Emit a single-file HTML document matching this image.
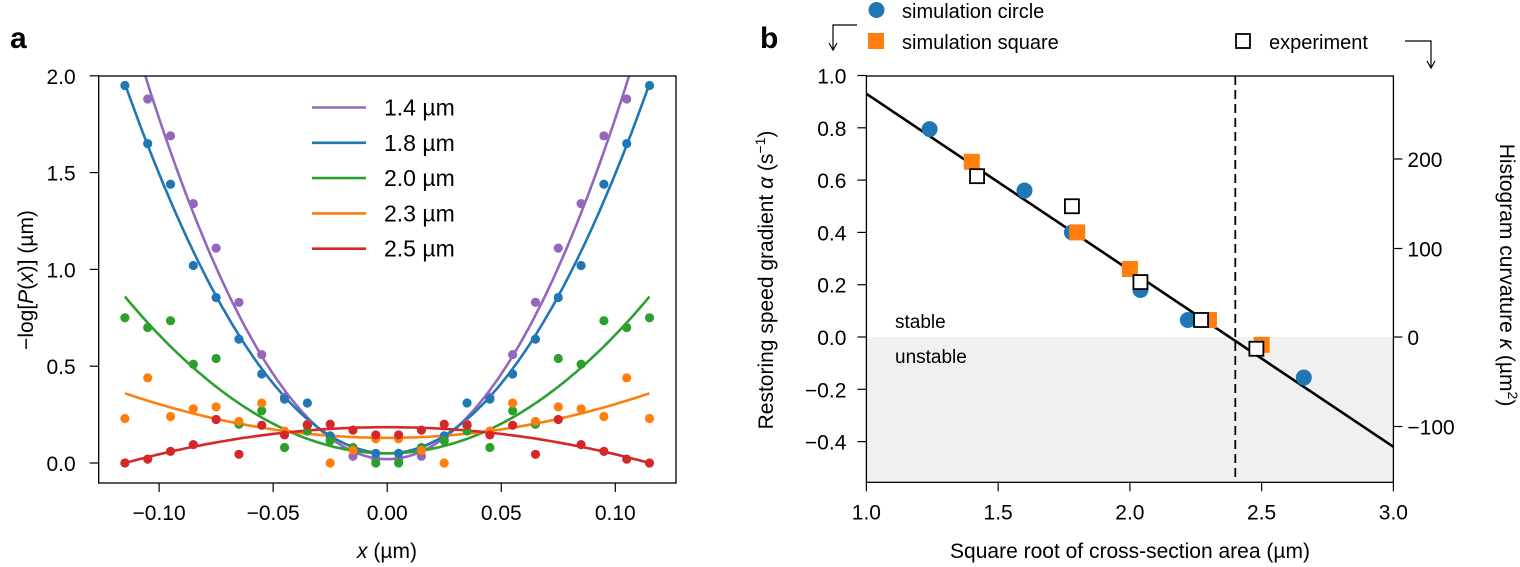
<!DOCTYPE html>
<html><head><meta charset="utf-8"><style>
html,body{margin:0;padding:0;background:#fff;}
svg{display:block;font-family:"Liberation Sans",sans-serif;}
</style></head><body>
<svg id="s" width="1520" height="567" viewBox="0 0 1520 567" xmlns="http://www.w3.org/2000/svg">
<text x="10" y="48" font-size="30" font-weight="bold">a</text>
<text x="760" y="48" font-size="30" font-weight="bold">b</text>
<g id="ga"></g><g id="gb"></g>
</svg>
<script>
var NS="http://www.w3.org/2000/svg";
function el(p,t,a,txt){var e=document.createElementNS(NS,t);for(var k in a)e.setAttribute(k,a[k]);if(txt!==undefined)e.textContent=txt;p.appendChild(e);return e;}
var FS=21;
// Panel a
var ga=document.getElementById('ga');
var L=98.7,R=676,T=76,B=483;
function X(x){return 387.2+x*2281;}
function Y(v){return 463-v*193.6;}
var defs=el(ga,'defs',{});var cp=el(defs,'clipPath',{id:'ca'});el(cp,'rect',{x:L,y:T,width:R-L,height:B-T});
var ser=[
 ['#9467bd',0.02,176,[1.95,1.88,1.69,1.34,1.11,0.83,0.56,0.34,0.2,0.12,0.035,0.02],'1.4 µm'],
 ['#1f77b4',0.05,144.4,[1.95,1.65,1.44,1.02,0.855,0.64,0.46,0.33,0.31,0.14,0.07,0.05],'1.8 µm'],
 ['#2ca02c',0.05,61.2,[0.75,0.70,0.735,0.51,0.54,0.20,0.27,0.08,0.165,0.115,0.08,0.0],'2.0 µm'],
 ['#ff7f0e',0.13,17.4,[0.23,0.44,0.24,0.28,0.29,0.215,0.31,0.165,0.195,0.0,0.065,0.125],'2.3 µm'],
 ['#d62728',0.185,-14,[0,0.02,0.06,0.095,0.225,0.045,0.195,0.145,0.195,0.2,0.17,0.145],'2.5 µm']];
var cg=el(ga,'g',{'clip-path':'url(#ca)'});
ser.forEach(function(s,i){
 var d='';for(var j=0;j<=200;j++){var x=-0.115+0.23*j/200;var v=s[1]+s[2]*x*x;d+=(j?'L':'M')+X(x).toFixed(1)+' '+Y(v).toFixed(1);}
 el(cg,'path',{d:d,fill:'none',stroke:s[0],'stroke-width':2.6});
});
ser.forEach(function(s){
 s[3].forEach(function(v,k){var x=0.115-0.01*k;
  if(s[0]=='#9467bd'&&k==0)return;
  el(cg,'circle',{cx:X(-x),cy:Y(v),r:4.6,fill:s[0]});el(cg,'circle',{cx:X(x),cy:Y(v),r:4.6,fill:s[0]});});
});
ser.forEach(function(s,i){var y=107.5+i*35.3;el(ga,'line',{x1:312,x2:366,y1:y,y2:y,stroke:s[0],'stroke-width':2.6});
 el(ga,'text',{x:384,y:y+8,'font-size':23},s[4]);});
el(ga,'rect',{x:L,y:T,width:R-L,height:B-T,fill:'none',stroke:'#000','stroke-width':1.3});
[0,0.5,1,1.5,2].forEach(function(v){var y=Y(v);el(ga,'line',{x1:L-9,x2:L,y1:y,y2:y,stroke:'#000','stroke-width':1.2});
 el(ga,'text',{x:L-23,y:y+8,'font-size':FS,'text-anchor':'end'},v.toFixed(1));});
[-0.1,-0.05,0,0.05,0.1].forEach(function(v){var x=X(v);el(ga,'line',{x1:x,x2:x,y1:B,y2:B+9,stroke:'#000','stroke-width':1.2});
 el(ga,'text',{x:x,y:B+37,'font-size':FS,'text-anchor':'middle'},(v<0?'−':'')+Math.abs(v).toFixed(2));});
el(ga,'text',{x:387,y:558,'font-size':FS,'text-anchor':'middle'}).innerHTML='<tspan font-style="italic">x</tspan> (µm)';
el(ga,'text',{x:0,y:0,'font-size':FS,'text-anchor':'middle',transform:'translate(33,280) rotate(-90)'}).innerHTML='−log[<tspan font-style="italic">P</tspan>(<tspan font-style="italic">x</tspan>)] (µm)';
// Panel b
var gb=document.getElementById('gb');
var bL=866.4,bR=1393.4,bT=76,bB=482.3;
function BX(x){return bL+(x-1)*263.5;}
function BY(v){return 337-v*261.5;}
el(gb,'rect',{x:bL,y:BY(0),width:bR-bL,height:bB-BY(0),fill:'#f0f0f0'});
el(gb,'line',{x1:BX(2.4),x2:BX(2.4),y1:bT,y2:bB,stroke:'#000','stroke-width':1.8,'stroke-dasharray':'9,5'});
el(gb,'line',{x1:BX(1),y1:BY(0.93),x2:BX(3),y2:BY(-0.42),stroke:'#000','stroke-width':2.6});
[[1.24,0.795],[1.6,0.56],[1.78,0.4],[2.04,0.18],[2.22,0.065],[2.66,-0.155]].forEach(function(p){el(gb,'circle',{cx:BX(p[0]),cy:BY(p[1]),r:8,fill:'#1f77b4'});});
[[1.4,0.67],[1.8,0.4],[2.0,0.26],[2.3,0.065],[2.5,-0.03]].forEach(function(p){el(gb,'rect',{x:BX(p[0])-8,y:BY(p[1])-8,width:16,height:16,fill:'#ff7f0e'});});
[[1.42,0.615],[1.78,0.5],[2.04,0.21],[2.27,0.065],[2.48,-0.045]].forEach(function(p){el(gb,'rect',{x:BX(p[0])-7,y:BY(p[1])-7,width:14,height:14,fill:'#fff',stroke:'#000','stroke-width':1.8});});
el(gb,'rect',{x:bL,y:bT,width:bR-bL,height:bB-bT,fill:'none',stroke:'#000','stroke-width':1.3});
[-0.4,-0.2,0,0.2,0.4,0.6,0.8,1.0].forEach(function(v){var y=BY(v);el(gb,'line',{x1:bL-9,x2:bL,y1:y,y2:y,stroke:'#000','stroke-width':1.2});
 el(gb,'text',{x:bL-20,y:y+8,'font-size':FS,'text-anchor':'end'},(v<0?'−':'')+Math.abs(v).toFixed(1));});
[[200,159],[100,248.5],[0,337],[-100,426.5]].forEach(function(p){el(gb,'line',{x1:bR,x2:bR+9,y1:p[1],y2:p[1],stroke:'#000','stroke-width':1.2});
 el(gb,'text',{x:bR+14,y:p[1]+8,'font-size':FS},(p[0]<0?'−':'')+Math.abs(p[0]));});
[1,1.5,2,2.5,3].forEach(function(v){var x=BX(v);el(gb,'line',{x1:x,x2:x,y1:bB,y2:bB+9,stroke:'#000','stroke-width':1.2});
 el(gb,'text',{x:x,y:bB+37,'font-size':FS,'text-anchor':'middle'},v.toFixed(1));});
el(gb,'text',{x:1130,y:558,'font-size':FS,'text-anchor':'middle'},'Square root of cross-section area (µm)');
el(gb,'text',{x:0,y:0,'font-size':FS,'text-anchor':'middle',transform:'translate(773,280) rotate(-90)'}).innerHTML='Restoring speed gradient <tspan font-style="italic">α</tspan> (s<tspan dy="-8" font-size="14">−1</tspan><tspan dy="8">)</tspan>';
el(gb,'text',{x:0,y:0,'font-size':FS,'text-anchor':'middle',transform:'translate(1500,275) rotate(90)'}).innerHTML='Histogram curvature <tspan font-style="italic">κ</tspan> (µm<tspan dy="-8" font-size="14">2</tspan><tspan dy="8">)</tspan>';
el(gb,'text',{x:895,y:328,'font-size':19},'stable');
el(gb,'text',{x:895,y:363,'font-size':19},'unstable');
el(gb,'circle',{cx:876.5,cy:10,r:8,fill:'#1f77b4'});
el(gb,'text',{x:902,y:18,'font-size':20},'simulation circle');
el(gb,'rect',{x:868,y:33,width:16,height:16,fill:'#ff7f0e'});
el(gb,'text',{x:902,y:49,'font-size':20},'simulation square');
el(gb,'rect',{x:1236,y:34,width:14,height:14,fill:'#fff',stroke:'#000','stroke-width':1.8});
el(gb,'text',{x:1269,y:49,'font-size':20},'experiment');
el(gb,'path',{d:'M857 25 H833 V49 M829 43 L833 50 L837 43',fill:'none',stroke:'#000','stroke-width':1.2});
el(gb,'path',{d:'M1405 41 H1431 V67 M1427 61 L1431 68 L1435 61',fill:'none',stroke:'#000','stroke-width':1.2});
</script>
</body></html>
